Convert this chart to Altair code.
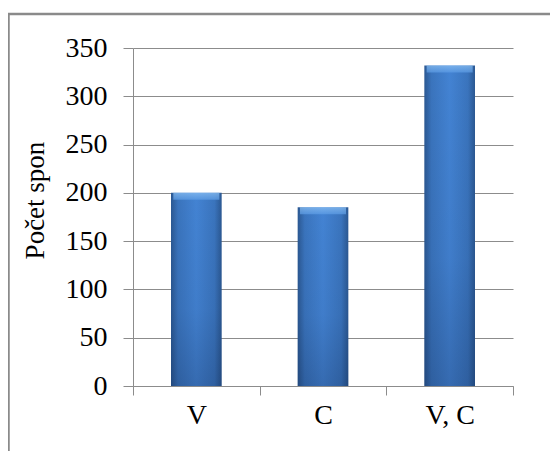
import altair as alt
import pandas as pd

categories = ["V", "C", "V, C"]
values = [200, 185, 332]
y_ticks = [0, 50, 100, 150, 200, 250, 300, 350]
y_title = "Počet spon"

df = pd.DataFrame({"kat": categories, "pocet": values})
frame_df = pd.DataFrame({"k": [0]})

FONT = "Times New Roman, Liberation Serif, serif"
GRID = "#8c8c8c"

body = alt.Gradient(
    gradient="linear", x1=0, x2=1, y1=0, y2=0,
    stops=[
        alt.GradientStop(color="#2b5892", offset=0),
        alt.GradientStop(color="#3a74bd", offset=0.14),
        alt.GradientStop(color="#4383d3", offset=0.5),
        alt.GradientStop(color="#3a74bd", offset=0.86),
        alt.GradientStop(color="#2b5892", offset=1),
    ],
)
shade = alt.Gradient(
    gradient="linear", x1=0, x2=0, y1=0, y2=1,
    stops=[
        alt.GradientStop(color="rgba(0,10,40,0)", offset=0),
        alt.GradientStop(color="rgba(0,10,40,0.05)", offset=0.6),
        alt.GradientStop(color="rgba(0,10,40,0.2)", offset=1),
    ],
)
bevel = alt.Gradient(
    gradient="linear", x1=0, x2=0, y1=0, y2=1,
    stops=[
        alt.GradientStop(color="#8fc3f5", offset=0),
        alt.GradientStop(color="#5d9de6", offset=1),
    ],
)

x = alt.X(
    "kat:N", sort=categories, title=None,
    scale=alt.Scale(paddingInner=0, paddingOuter=0),
    axis=alt.Axis(
        labelAngle=0, tickBand="extent", tickSize=9, labelPadding=6,
        domainColor=GRID, tickColor=GRID, grid=False,
        labelFont=FONT, labelFontSize=28, labelColor="black",
    ),
)
y = alt.Y(
    "pocet:Q",
    scale=alt.Scale(domain=[0, 350], nice=False),
    axis=alt.Axis(
        values=y_ticks, title=y_title, tickSize=10, labelPadding=16,
        domainColor=GRID, tickColor=GRID, gridColor=GRID, grid=True,
        labelFont=FONT, labelFontSize=28, labelColor="black",
        titleFont=FONT, titleFontSize=27, titleFontWeight="normal", titleColor="black",
        titleX=-98, titleY=152, titleAngle=270, titleAlign="center", titleBaseline="middle",
    ),
)

bars = alt.Chart(df).mark_bar(width=alt.RelativeBandSize(0.4), color=body).encode(x=x, y=y)
shades = alt.Chart(df).mark_bar(width=alt.RelativeBandSize(0.4), color=shade).encode(x=x, y=y)
tops = alt.Chart(df).mark_tick(size=46, thickness=7, yOffset=3.5, color=bevel).encode(x=x, y=y)

top_line = alt.Chart(frame_df).mark_rule(color="#8a8a8a", strokeWidth=2.5).encode(
    x=alt.value(-125), x2=alt.value(430), y=alt.value(-34)
)
left_line = alt.Chart(frame_df).mark_rule(color="#8a8a8a", strokeWidth=2.5).encode(
    x=alt.value(-124.5), y=alt.value(-35), y2=alt.value(420)
)

chart = (
    alt.layer(bars, shades, tops, top_line, left_line)
    .properties(
        width=380, height=338,
        autosize=alt.AutoSizeParams(type="none"),
        padding={"left": 125, "top": 40, "right": 37, "bottom": 65},
        background="white",
    )
    .configure_view(stroke=None)
)

chart.save("out.html", embed_options={"renderer": "svg", "actions": False})
